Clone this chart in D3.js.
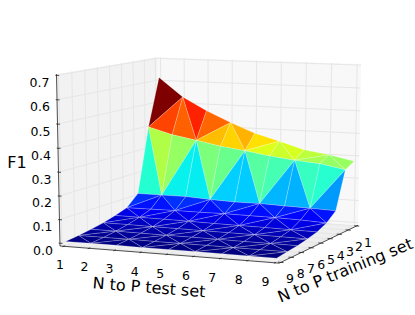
<!DOCTYPE html>
<html>
<head>
<meta charset="utf-8">
<script src="https://cdn.jsdelivr.net/npm/d3@7"></script>
<style>
body { margin: 0; background: #fff; }
text { font-family: "DejaVu Sans", sans-serif; fill: #000; }
</style>
</head>
<body>
<div id="wrapper"></div>
<script>
var width = 415, height = 315;

var testTicks = [1, 2, 3, 4, 5, 6, 7, 8, 9];
var trainTicks = [1, 2, 3, 4, 5, 6, 7, 8, 9];
var f1Ticks = [0, 0.1, 0.2, 0.3, 0.4, 0.5, 0.6, 0.7];

// F1 per test ratio, one array per training ratio
var train1 = [0.615, 0.53, 0.472, 0.423, 0.38, 0.35, 0.317, 0.30, 0.278];
var train2 = [0.40, 0.37, 0.35, 0.329, 0.315, 0.297, 0.284, 0.275, 0.255];
var train3 = [0.11, 0.11, 0.11, 0.104, 0.10, 0.10, 0.097, 0.094, 0.09];
var train4 = [0.062, 0.063, 0.064, 0.064, 0.065, 0.064, 0.063, 0.06, 0.055];
var train5 = [0.045, 0.044, 0.043, 0.042, 0.04, 0.039, 0.038, 0.036, 0.035];
var train6 = [0.03, 0.03, 0.029, 0.028, 0.027, 0.026, 0.026, 0.025, 0.024];
var train7 = [0.02, 0.02, 0.019, 0.018, 0.018, 0.017, 0.016, 0.016, 0.015];
var train8 = [0.012, 0.012, 0.012, 0.011, 0.011, 0.011, 0.01, 0.01, 0.01];
var train9 = [0.006, 0.006, 0.006, 0.005, 0.005, 0.005, 0.005, 0.004, 0.004];
var f1Rows = [train1, train2, train3, train4, train5, train6, train7, train8, train9];

// data to unit box
var x = d3.scaleLinear().domain([0.85, 9.15]).range([0, 1]);
var y = d3.scaleLinear().domain([9.15, 0.85]).range([0, 1]);
var z = d3.scaleLinear().domain([-0.012, 0.705]).range([0, 1]);

// camera, same idea as mplot3d
var elev = 10 * Math.PI / 180, azim = -67 * Math.PI / 180, dist = 8;
var sx = 229.5, sy = 169, cx = 213.8, cy = 153;

var right = [-Math.sin(azim), Math.cos(azim), 0];
var up = [-Math.sin(elev) * Math.cos(azim), -Math.sin(elev) * Math.sin(azim), Math.cos(elev)];
var look = [Math.cos(elev) * Math.cos(azim), Math.cos(elev) * Math.sin(azim), Math.sin(elev)];

function dot(a, b) { return a[0] * b[0] + a[1] * b[1] + a[2] * b[2]; }

function depth(u, v, w) {
	return dot([u - 0.5, v - 0.5, w - 0.5], look);
}

function project(u, v, w) {
	var c = [u - 0.5, v - 0.5, w - 0.5];
	var f = dist / (dist - dot(c, look));
	return [cx + sx * f * dot(c, right), cy - sy * f * dot(c, up)];
}

// jet colormap
var jetR = d3.scaleLinear().domain([0, 0.35, 0.66, 0.89, 1]).range([0, 0, 255, 255, 127]);
var jetG = d3.scaleLinear().domain([0, 0.125, 0.375, 0.64, 0.91, 1]).range([0, 0, 255, 255, 0, 0]);
var jetB = d3.scaleLinear().domain([0, 0.11, 0.34, 0.65, 1]).range([127, 255, 255, 0, 0]);
function jet(t) {
	return d3.rgb(jetR(t), jetG(t), jetB(t)).formatHex();
}

var line = d3.line();
function poly(pts) { return line(pts) + "Z"; }

var svg = d3.select("#wrapper").append("svg")
	.attr("width", width)
	.attr("height", height)
	.style("display", "block");

// panes
var panes = [
	{ fill: "#efefef", pts: [[0, 0, 0], [1, 0, 0], [1, 1, 0], [0, 1, 0]] },
	{ fill: "#f2f2f2", pts: [[0, 0, 0], [0, 1, 0], [0, 1, 1], [0, 0, 1]] },
	{ fill: "#f8f8f8", pts: [[0, 1, 0], [1, 1, 0], [1, 1, 1], [0, 1, 1]] }
];
svg.selectAll("path.pane")
	.data(panes)
	.enter()
	.append("path")
	.attr("class", "pane")
	.attr("d", function(d) { return poly(d.pts.map(function(p) { return project(p[0], p[1], p[2]); })); })
	.attr("fill", function(d) { return d.fill; });

// grid lines
var gridLines = [];
testTicks.forEach(function(t) {
	gridLines.push([[x(t), 0, 0], [x(t), 1, 0], [x(t), 1, 1]]);
});
trainTicks.forEach(function(t) {
	gridLines.push([[1, y(t), 0], [0, y(t), 0], [0, y(t), 1]]);
});
f1Ticks.forEach(function(t) {
	gridLines.push([[0, 0, z(t)], [0, 1, z(t)], [1, 1, z(t)]]);
});
svg.selectAll("path.grid")
	.data(gridLines)
	.enter()
	.append("path")
	.attr("class", "grid")
	.attr("d", function(d) { return line(d.map(function(p) { return project(p[0], p[1], p[2]); })); })
	.attr("fill", "none")
	.attr("stroke", "#e6e6e6")
	.attr("stroke-width", 1);

// axis lines and tick marks
var axisLines = [
	[[0, 0, 0], [1, 0, 0]],
	[[1, 0, 0], [1, 1, 0]],
	[[0, 0, 0], [0, 0, 1]]
];
testTicks.forEach(function(t) {
	axisLines.push([[x(t), -0.012, 0], [x(t), 0.012, 0]]);
});
trainTicks.forEach(function(t) {
	axisLines.push([[1 - 0.012, y(t), 0], [1 + 0.012, y(t), 0]]);
});
f1Ticks.forEach(function(t) {
	axisLines.push([[-0.006, 0, z(t)], [0.012, 0, z(t)]]);
});
svg.selectAll("path.axis")
	.data(axisLines)
	.enter()
	.append("path")
	.attr("class", "axis")
	.attr("d", function(d) { return line(d.map(function(p) { return project(p[0], p[1], p[2]); })); })
	.attr("fill", "none")
	.attr("stroke", "#222")
	.attr("stroke-width", 0.8);

// triangles, diagonal goes through the odd (i + j) vertices
var triangles = [];
function vertex(i, j) {
	return { u: x(testTicks[i]), v: y(trainTicks[j]), w: z(f1Rows[j][i]), f1: f1Rows[j][i] };
}
for (var j = 0; j < trainTicks.length - 1; j++) {
	for (var i = 0; i < testTicks.length - 1; i++) {
		var a = vertex(i, j), b = vertex(i + 1, j), c = vertex(i + 1, j + 1), e = vertex(i, j + 1);
		if ((i + j) % 2 == 0) {
			triangles.push([a, b, e]);
			triangles.push([b, c, e]);
		} else {
			triangles.push([a, b, c]);
			triangles.push([a, c, e]);
		}
	}
}
triangles.forEach(function(t) {
	t.avg = d3.mean(t, function(p) { return p.f1; });
	t.depth = d3.mean(t, function(p) { return depth(p.u, p.v, p.w); });
});
triangles.sort(function(p, q) { return p.depth - q.depth; });

var color = d3.scaleLinear()
	.domain(d3.extent(triangles, function(t) { return t.avg; }))
	.range([0, 1]);

svg.selectAll("path.tri")
	.data(triangles)
	.enter()
	.append("path")
	.attr("class", "tri")
	.attr("d", function(t) { return poly(t.map(function(p) { return project(p.u, p.v, p.w); })); })
	.attr("fill", function(t) { return jet(color(t.avg)); })
	.attr("stroke", "#fff")
	.attr("stroke-opacity", 0.55)
	.attr("stroke-width", 0.4);

// tick labels
function xLabelPos(d) { return project(x(d) * 0.97 + 0.012, -0.06, -0.095); }
function yLabelPos(d) { return project(1.04 + 0.015 * y(d), y(d), -0.085 - 0.018 * y(d)); }

svg.selectAll("text.xt")
	.data(testTicks)
	.enter()
	.append("text")
	.attr("class", "xt")
	.attr("x", function(d) { return xLabelPos(d)[0]; })
	.attr("y", function(d) { return xLabelPos(d)[1]; })
	.attr("dy", ".36em")
	.attr("text-anchor", "middle")
	.style("font-size", "12.5px")
	.text(function(d) { return d; });

svg.selectAll("text.yt")
	.data(trainTicks)
	.enter()
	.append("text")
	.attr("class", "yt")
	.attr("x", function(d) { return yLabelPos(d)[0]; })
	.attr("y", function(d) { return yLabelPos(d)[1]; })
	.attr("dy", ".36em")
	.attr("text-anchor", "middle")
	.style("font-size", "12.5px")
	.text(function(d) { return d; });

svg.selectAll("text.zt")
	.data(f1Ticks)
	.enter()
	.append("text")
	.attr("class", "zt")
	.attr("x", function(d) { return project(0, 0, z(d))[0] - 17; })
	.attr("y", function(d) { return project(0, 0, z(d))[1] + 7; })
	.attr("dy", ".36em")
	.attr("text-anchor", "middle")
	.style("font-size", "12.5px")
	.text(function(d) { return d3.format(".1f")(d); });

// axis titles
var titles = [
	{ label: "F1", px: 17, py: 162, angle: 0 },
	{ label: "N to P test set", px: 149, py: 287, angle: 4.5 },
	{ label: "N to P training set", px: 345, py: 270, angle: -22.4 }
];
svg.selectAll("text.title")
	.data(titles)
	.enter()
	.append("text")
	.attr("class", "title")
	.attr("transform", function(d) { return "translate(" + d.px + "," + d.py + ") rotate(" + d.angle + ")"; })
	.attr("dy", ".36em")
	.attr("text-anchor", "middle")
	.style("font-size", "16px")
	.text(function(d) { return d.label; });
</script>
</body>
</html>
